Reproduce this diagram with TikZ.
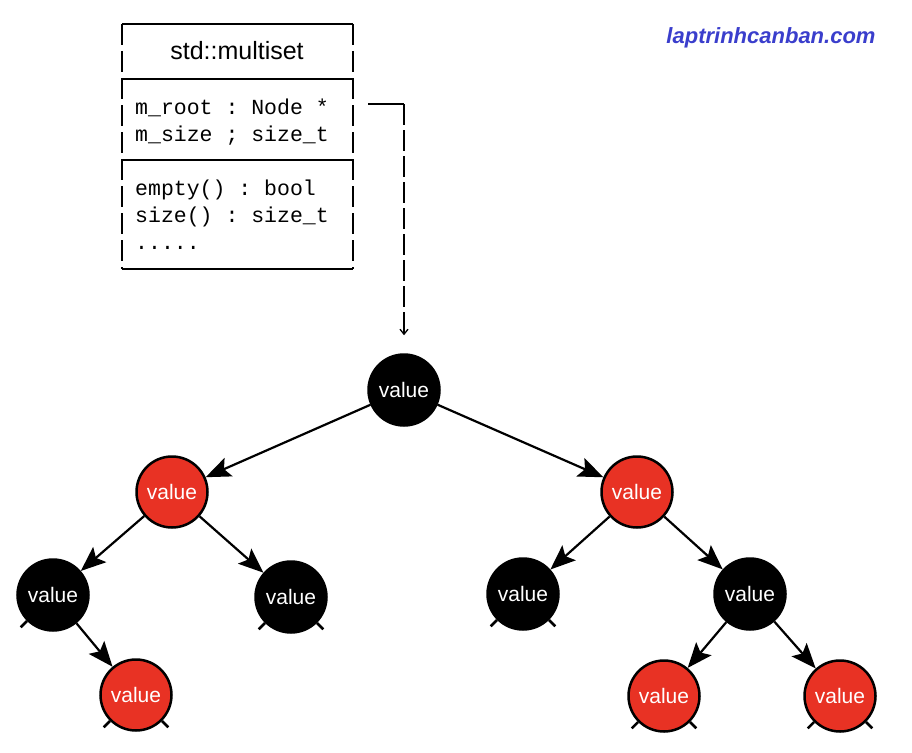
\documentclass[tikz,border=0pt]{standalone}
\usepackage{fontspec}
\setmainfont{Liberation Sans}
\setmonofont{Liberation Mono}
\usetikzlibrary{arrows.meta}
\usetikzlibrary{calc}
\definecolor{rbred}{RGB}{232,50,36}
\definecolor{siteblue}{RGB}{58,62,204}
\tikzstyle{rbnode} = [circle, minimum size=71pt, inner sep=0pt, line width=2.5pt, draw=black, text=white, font=\fontsize{21}{25}\selectfont]
\tikzstyle{rednode} = [rbnode, fill=rbred]
\tikzstyle{blacknode} = [rbnode, fill=black]
\tikzstyle{arrow} = [-{Stealth[length=25pt,width=20pt,inset=5pt]}, line width=2.2pt]
\tikzstyle{nil} = [line width=2.5pt]
\tikzstyle{member} = [anchor=base west, inner sep=0pt, font=\ttfamily\fontsize{21.5}{27}\selectfont]
\tikzstyle{pointer} = [line width=1.3pt]
\newcommand{\nilstub}{9pt}
\newcommand{\ptrgap}{18pt}

\begin{document}
\begin{tikzpicture}[x=1pt, y=-1pt]

  %\draw[help lines] (0,0) grid (912,752);
  \useasboundingbox (0,0) rectangle (912,752);

  % class box
  \draw [line width=1.3pt] (122,24) -- (353,24);
  \draw [line width=1.3pt] (122,269) -- (353,269);
  \draw [line width=1.3pt, dash pattern=on 21pt off 6pt] (122,24) -- (122,269);
  \draw [line width=1.3pt, dash pattern=on 21pt off 6pt] (353,24) -- (353,269);
  \draw [line width=1.3pt] (122,79) -- (353,79);
  \draw [line width=1.3pt] (122,160) -- (353,160);

  \node (title) at (237,51) {\fontsize{25}{30}\selectfont std::multiset};
  \node (mroot)  [member] at (135,114) {m\_root : Node *};
  \node (msize)  [member] at (135,141) {m\_size ; size\_t};
  \node (mempty) [member] at (135,195) {empty() : bool};
  \node (msz)    [member] at (135,222) {size() : size\_t};
  \node (mdots)  [member] at (135,249) {.....};

  \node (site) [text=siteblue, font=\fontsize{22}{26}\selectfont\bfseries\itshape] at (771,38) {laptrinhcanban.com};

  % tree
  \node (root) [blacknode] at (404,390) {value};
  \node (nl)   [rednode]   at (172,492) {value};
  \node (nr)   [rednode]   at (637,492) {value};
  \node (nll)  [blacknode] at (53,595)  {value};
  \node (nlr)  [blacknode] at (291,597) {value};
  \node (nrl)  [blacknode] at (523,594) {value};
  \node (nrr)  [blacknode] at (750,594) {value};
  \node (nllr) [rednode]   at (136,695) {value};
  \node (nrrl) [rednode]   at (664,696) {value};
  \node (nrrr) [rednode]   at (840,696) {value};

  % m_root -> root
  \coordinate (ptr) at (368,104);
  \coordinate (bend) at (ptr -| root.north);
  \draw [pointer] (ptr) -- (bend);
  \draw [pointer, dash pattern=on 21pt off 5pt, -{Straight Barb[length=5pt,width=8pt]}]
        (bend) -- ([yshift=\ptrgap]root.north);

  % parent -> child
  \draw [arrow] (root) -- (nl);
  \draw [arrow] (root) -- (nr);
  \draw [arrow] (nl) -- (nll);
  \draw [arrow] (nl) -- (nlr);
  \draw [arrow] (nll) -- (nllr);
  \draw [arrow] (nr) -- (nrl);
  \draw [arrow] (nr) -- (nrr);
  \draw [arrow] (nrr) -- (nrrl);
  \draw [arrow] (nrr) -- (nrrr);

  % nil stubs
  \draw [nil] (nll.-135) -- ++(-135:\nilstub);
  \draw [nil] (nlr.-135) -- ++(-135:\nilstub);
  \draw [nil] (nlr.-45) -- ++(-45:\nilstub);
  \draw [nil] (nllr.-135) -- ++(-135:\nilstub);
  \draw [nil] (nllr.-45) -- ++(-45:\nilstub);
  \draw [nil] (nrl.-135) -- ++(-135:\nilstub);
  \draw [nil] (nrl.-45) -- ++(-45:\nilstub);
  \draw [nil] (nrrl.-135) -- ++(-135:\nilstub);
  \draw [nil] (nrrl.-45) -- ++(-45:\nilstub);
  \draw [nil] (nrrr.-135) -- ++(-135:\nilstub);
  \draw [nil] (nrrr.-45) -- ++(-45:\nilstub);

\end{tikzpicture}
\end{document}
